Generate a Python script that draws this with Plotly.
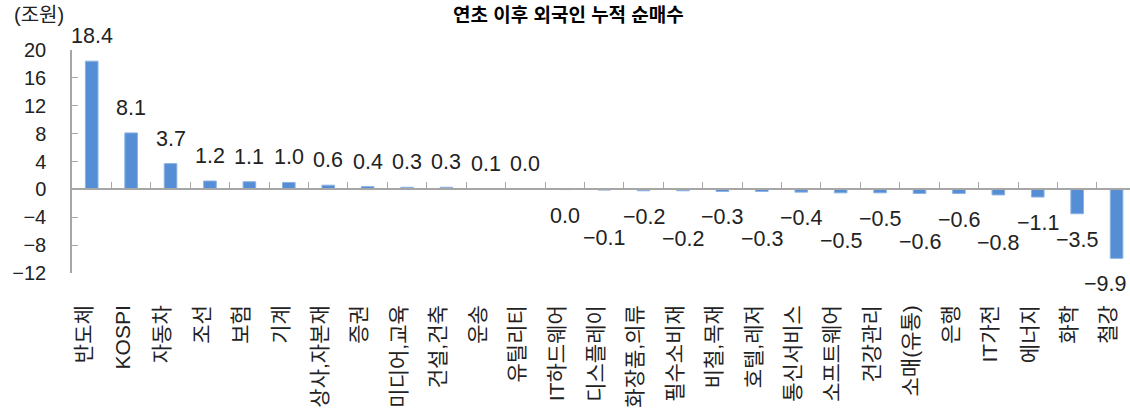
import plotly.graph_objects as go

SECTORS = [
    "반도체", "KOSPI", "자동차", "조선", "보험", "기계", "상사,자본재", "증권",
    "미디어,교육", "건설,건축", "운송", "유틸리티", "IT하드웨어", "디스플레이",
    "화장품,의류", "필수소비재", "비철,목재", "호텔,레저", "통신서비스", "소프트웨어",
    "건강관리", "소매(유통)", "은행", "IT가전", "에너지", "화학", "철강",
]
NET_BUY = [
    18.4, 8.1, 3.7, 1.2, 1.1, 1.0, 0.6, 0.4,
    0.3, 0.3, 0.1, 0.02, -0.03, -0.1,
    -0.2, -0.2, -0.3, -0.3, -0.4, -0.5,
    -0.5, -0.6, -0.6, -0.8, -1.1, -3.5, -9.9,
]
Y_TICKS = [20, 16, 12, 8, 4, 0, -4, -8, -12]

FONT = "Liberation Sans, Noto Sans CJK KR, sans-serif"
BAR_COLOR = "#558ed5"
AXIS_GRAY = "#a6a6a6"


def fmt(v: float) -> str:
    s = f"{v:.1f}"
    if s == "-0.0":
        s = "0.0"
    return s.replace("-", "\u2212")


fig = go.Figure()
fig.add_trace(
    go.Bar(
        x=SECTORS,
        y=NET_BUY,
        width=0.32,
        marker=dict(color=BAR_COLOR, line=dict(color="#8db3e2", width=1)),
        showlegend=False,
        hoverinfo="skip",
    )
)
# invisible copy so the bottom axis (labels only) has the categories
fig.add_trace(
    go.Scatter(
        x=SECTORS, y=NET_BUY, xaxis="x2", mode="markers",
        marker=dict(opacity=0), showlegend=False, hoverinfo="skip",
    )
)

# value labels: above positive bars, below negative ones (staggered like the source)
neg_i = 0
last = len(SECTORS) - 1
for i, (name, v) in enumerate(zip(SECTORS, NET_BUY)):
    if v >= 0:
        shift = 25
    else:
        shift = -26
        if neg_i % 2 == 1 and v > -2:
            shift -= 22
        neg_i += 1
    fig.add_annotation(
        x=name, y=v, text=fmt(v), showarrow=False,
        yanchor="middle", yshift=shift,
        xshift=-12 if i == last else 0,
        font=dict(family=FONT, size=21.5, color="#222222"),
    )

fig.add_annotation(
    text="(조원)", xref="paper", yref="paper", x=-0.0567, y=1.157,
    xanchor="left", yanchor="middle", showarrow=False,
    font=dict(family=FONT, size=20, color="#222222"),
)

fig.update_layout(
    width=1130,
    height=414,
    margin=dict(l=72, r=0, t=50, b=141, autoexpand=False),
    paper_bgcolor="white",
    plot_bgcolor="white",
    title=dict(
        text="<b>연초 이후 외국인 누적 순매수</b>",
        x=0.503, xanchor="center", y=0.964, yanchor="middle",
        font=dict(family=FONT, size=19, color="#000000"),
    ),
    xaxis=dict(
        type="category",
        range=[-0.5, 26.34],
        anchor="free",
        position=0.375,
        showline=True,
        linecolor=AXIS_GRAY,
        linewidth=2,
        ticks="inside",
        ticklen=6,
        tickcolor=AXIS_GRAY,
        tickson="boundaries",
        showticklabels=False,
        showgrid=False,
        zeroline=False,
        automargin=False,
    ),
    xaxis2=dict(
        type="category",
        overlaying="x",
        matches="x",
        anchor="y",
        side="bottom",
        showline=False,
        ticks="",
        tickangle=-90,
        ticklabelstandoff=27,
        ticklabelshift=-8,
        showgrid=False,
        zeroline=False,
        automargin=False,
        tickfont=dict(family=FONT, size=21, color="#222222"),
    ),
    yaxis=dict(
        range=[-12, 20],
        tickvals=Y_TICKS,
        ticktext=[fmt(t).replace(".0", "") for t in Y_TICKS],
        showline=True,
        linecolor=AXIS_GRAY,
        linewidth=1.5,
        ticks="inside",
        ticklen=6,
        tickcolor=AXIS_GRAY,
        ticklabelstandoff=20,
        showgrid=False,
        zeroline=False,
        automargin=False,
        tickfont=dict(family=FONT, size=20, color="#222222"),
    ),
)

# drop the browser's default 8px body margin so the figure fills the window
fig.write_html(
    "out.html",
    config={"displayModeBar": False},
    post_script="document.body.style.margin='0';",
)
